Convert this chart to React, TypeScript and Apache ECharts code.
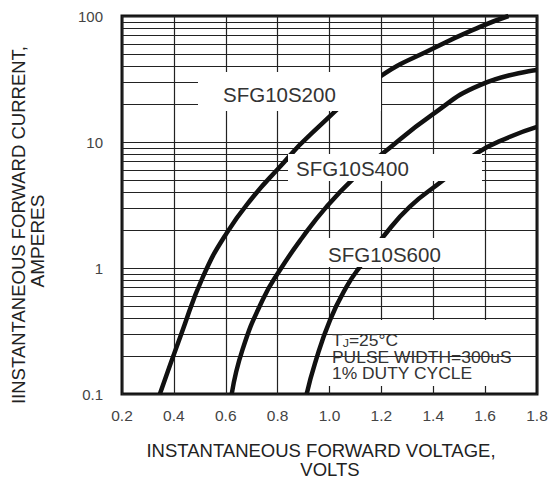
import React, { useEffect, useRef } from "react";
import * as echarts from "echarts";

// Forward voltage (V) vs forward current (A)
const sfg10s200: [number, number][] = [
  [0.346, 0.1], [0.43, 0.305], [0.512, 0.85], [0.604, 1.9], [0.705, 3.66],
  [0.801, 6.1], [0.925, 11.4], [1.175, 31], [1.413, 57],
  [1.58, 82], [1.69, 100],
];
const sfg10s400: [number, number][] = [
  [0.623, 0.1], [0.664, 0.223], [0.742, 0.557], [0.809, 0.964], [0.894, 1.73],
  [0.989, 3.07], [1.098, 5.27], [1.206, 8.13], [1.395, 16.4], [1.58, 28.3],
  [1.8, 37.3],
];
const sfg10s600: [number, number][] = [
  [0.912, 0.1], [0.944, 0.175], [1.002, 0.386], [1.066, 0.711], [1.117, 1.02],
  [1.207, 1.77], [1.31, 3.07], [1.439, 4.99], [1.567, 8.13], [1.696, 11.0],
  [1.8, 13.2],
];

const minorGridCurrents = [
  0.2, 0.3, 0.4, 0.5, 0.6, 0.7, 0.8, 0.9,
  2, 3, 4, 5, 6, 7, 8, 9,
  20, 30, 40, 50, 60, 70, 80, 90,
];

const curveNames = ["SFG10S200", "SFG10S400", "SFG10S600"];
const conditionLines = ["PULSE WIDTH=300uS", "1% DUTY CYCLE"];
const xTitleLines = ["INSTANTANEOUS FORWARD VOLTAGE,", "VOLTS"];
const yTitleLines = ["IINSTANTANEOUS FORWARD CURRENT,", "AMPERES"];

const FONT = "Liberation Sans, Arial, sans-serif";

export default function App() {
  const ref = useRef<HTMLDivElement>(null);
  useEffect(() => {
    if (!ref.current) return;
    const chart = echarts.init(ref.current, undefined, { renderer: "svg" });
    const curveStyle = { color: "#111", width: 4.5 };
    const curveSeries = [sfg10s200, sfg10s400, sfg10s600].map((d, i) => ({
      type: "line",
      name: curveNames[i],
      data: d,
      smooth: 0.5,
      symbol: "none",
      z: 5,
      lineStyle: curveStyle,
      itemStyle: { color: "#111" },
      silent: true,
    }));
    const labelBoxes = [
      { x: 198, y: 72, w: 183, h: 39 },
      { x: 288, y: 154, w: 194, h: 27 },
      { x: 326, y: 238, w: 124, h: 29 },
    ];
    const labelPos = [
      { x: 223, y: 94 },
      { x: 296, y: 168 },
      { x: 328, y: 254 },
    ];
    const graphic: any[] = [];
    // annotation box (below curves)
    graphic.push({
      type: "rect",
      shape: { x: 326, y: 320, width: 202, height: 66 },
      style: { fill: "#fff" },
      z: 3,
      silent: true,
    });
    labelBoxes.forEach((b) => {
      graphic.push({
        type: "rect",
        shape: { x: b.x, y: b.y, width: b.w, height: b.h },
        style: { fill: "#fff" },
        z: 20,
        silent: true,
      });
    });
    curveNames.forEach((n, i) => {
      graphic.push({
        type: "text",
        x: labelPos[i].x,
        y: labelPos[i].y,
        z: 21,
        style: {
          text: n,
          fill: "#333",
          font: `20.5px ${FONT}`,
          textAlign: "left",
          textVerticalAlign: "middle",
        },
      });
    });
    graphic.push({
      type: "text",
      x: 332,
      y: 341,
      z: 21,
      scaleX: 1.09,
      style: {
        text: "{t|T}{j|J}{t|=25°C}",
        textAlign: "left",
        textVerticalAlign: "middle",
        rich: {
          t: { fontSize: 16, fontFamily: FONT, fill: "#333", lineHeight: 16 },
          j: { fontSize: 11.5, fontFamily: FONT, fill: "#333", verticalAlign: "bottom", lineHeight: 16 },
        },
      },
    });
    conditionLines.forEach((t, i) => {
      graphic.push({
        type: "text",
        x: 332,
        y: 357.5 + i * 16.5,
        z: 21,
        scaleX: 1.09,
        style: {
          text: t,
          fill: "#333",
          font: `16px ${FONT}`,
          textAlign: "left",
          textVerticalAlign: "middle",
        },
      });
    });
    // axis titles
    graphic.push({
      type: "text",
      x: 321,
      y: 450,
      style: { text: xTitleLines[0], fill: "#222", font: `18.5px ${FONT}`, textAlign: "center", textVerticalAlign: "middle" },
    });
    graphic.push({
      type: "text",
      x: 330,
      y: 469,
      style: { text: xTitleLines[1], fill: "#222", font: `18.5px ${FONT}`, textAlign: "center", textVerticalAlign: "middle" },
    });
    graphic.push({
      type: "text",
      x: 18.5,
      y: 225,
      rotation: Math.PI / 2,
      style: { text: yTitleLines[0], fill: "#222", font: `18.5px ${FONT}`, textAlign: "center", textVerticalAlign: "middle" },
    });
    graphic.push({
      type: "text",
      x: 37,
      y: 241,
      rotation: Math.PI / 2,
      style: { text: yTitleLines[1], fill: "#222", font: `19px ${FONT}`, textAlign: "center", textVerticalAlign: "middle" },
    });

    chart.setOption({
      animation: false,
      backgroundColor: "#fff",
      grid: {
        left: 122,
        right: 12,
        top: 16,
        bottom: 90,
        show: true,
        borderColor: "#111",
        borderWidth: 3,
        containLabel: false,
        outerBoundsMode: "none",
      } as any,
      xAxis: {
        type: "value",
        min: 0.2,
        max: 1.8,
        interval: 0.2,
        axisLine: { show: false },
        axisTick: { show: false },
        splitLine: { show: true, lineStyle: { color: "#222", width: 1.2 } },
        axisLabel: {
          margin: 13,
          fontSize: 15.5,
          fontFamily: FONT,
          color: "#444",
          formatter: (v: number) => v.toFixed(1),
        },
      },
      yAxis: {
        type: "log",
        logBase: 10,
        min: 0.1,
        max: 100,
        axisLine: { show: false },
        axisTick: { show: false },
        splitLine: { show: true, lineStyle: { color: "#222", width: 1.2 } },
        axisLabel: {
          margin: 19,
          fontSize: 15,
          fontFamily: FONT,
          color: "#444",
          formatter: (v: number) => (v < 1 ? v.toFixed(1) : String(Math.round(v))),
        },
      },
      series: [
        {
          type: "line",
          data: [],
          z: 1,
          silent: true,
          markLine: {
            silent: true,
            symbol: ["none", "none"],
            label: { show: false },
            lineStyle: { color: "#222", width: 1.2, type: "solid" },
            emphasis: { disabled: true },
            data: minorGridCurrents.map((v) => ({ yAxis: v })),
          },
        },
        ...curveSeries,
      ],
      graphic,
    });
    return () => chart.dispose();
  }, []);
  return (
    <div
      ref={ref}
      style={{ position: "fixed", left: 0, top: 0, width: 549, height: 484 }}
    />
  );
}
